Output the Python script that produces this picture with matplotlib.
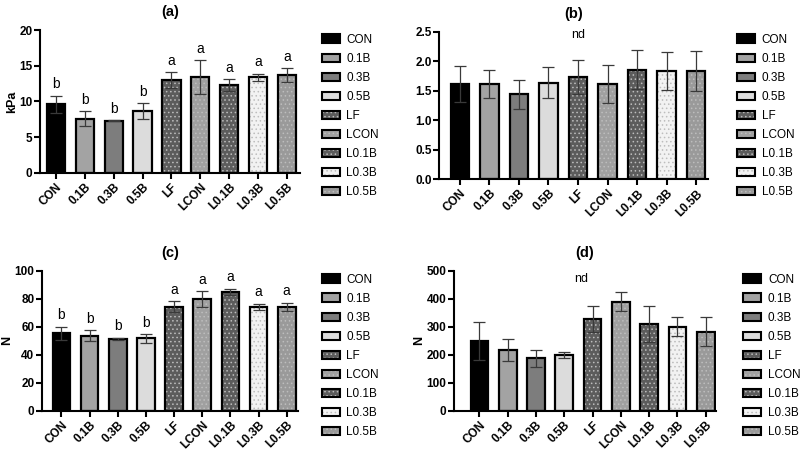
import numpy as np
import matplotlib
matplotlib.use("Agg")
import matplotlib.pyplot as plt
from matplotlib.patches import Patch

# ------------------------------------------------------------
# Data
# ------------------------------------------------------------

groups = ["CON", "0.1B", "0.3B", "0.5B", "LF", "LCON", "L0.1B", "L0.3B", "L0.5B"]

a_mean = [9.6, 7.6, 7.3, 8.7, 13.0, 13.4, 12.3, 13.4, 13.7]
a_err = [1.2, 1.0, 0.1, 1.1, 1.1, 2.4, 0.8, 0.5, 1.0]
a_letters = ["b", "b", "b", "b", "a", "a", "a", "a", "a"]

b_mean = [1.62, 1.61, 1.44, 1.64, 1.73, 1.62, 1.86, 1.84, 1.84]
b_err = [0.31, 0.24, 0.25, 0.27, 0.29, 0.32, 0.33, 0.32, 0.34]

c_mean = [55.5, 53.8, 51.4, 51.9, 74.5, 80.0, 85.0, 74.5, 74.5]
c_err = [4.7, 3.8, 1.0, 3.1, 4.1, 5.7, 2.4, 2.2, 2.9]
c_letters = ["b", "b", "b", "b", "a", "a", "a", "a", "a"]

d_mean = [250, 218, 188, 199, 327, 390, 310, 300, 283]
d_err = [67, 40, 31, 11, 46, 33, 65, 34, 51]

# ------------------------------------------------------------
# Style
# ------------------------------------------------------------

face_colors = ["#000000", "#a3a3a3", "#7d7d7d", "#dcdcdc", "#5c5c5c",
               "#a0a0a0", "#5c5c5c", "#f2f2f2", "#9a9a9a"]
hatches = [None, None, None, None, "....", "....", "....", "....", "...."]

plt.rcParams["hatch.color"] = "#bdbdbd"
plt.rcParams["hatch.linewidth"] = 0.6
plt.rcParams["font.family"] = ["Liberation Sans", "DejaVu Sans"]


def draw_panel(ax, mean, err, ylim, yticks, ylabel, title, xlim,
               letters=None, letter_off=0.0, nd_pos=None):
    x = np.arange(len(groups))
    for i in range(len(groups)):
        ax.bar(x[i], mean[i], width=0.63, color=face_colors[i],
               hatch=hatches[i], linewidth=0, zorder=2)
        ax.bar(x[i], mean[i], width=0.63, fill=False, edgecolor="black",
               linewidth=1.6, zorder=3)
    ax.errorbar(x, mean, yerr=err, fmt="none", ecolor="#3a3a3a",
                elinewidth=0.9, capsize=4.5, capthick=0.9, zorder=4)

    if letters is not None:
        for i, lt in enumerate(letters):
            ax.text(x[i], mean[i] + err[i] + letter_off, lt, ha="center",
                    va="bottom", fontsize=10)
    if nd_pos is not None:
        ax.text(nd_pos[0], nd_pos[1], "nd", ha="center", va="center",
                fontsize=9)

    ax.set_xlim(*xlim)
    ax.set_ylim(*ylim)
    ax.set_yticks(yticks)
    ax.set_xticks(x)
    ax.set_xticklabels(groups, rotation=45, ha="right",
                       rotation_mode="anchor", fontweight="bold", fontsize=8.5)
    for lab in ax.get_yticklabels():
        lab.set_fontweight("bold")
        lab.set_fontsize(8.5)
    ax.set_ylabel(ylabel, fontweight="bold", fontsize=9, labelpad=1)
    ax.set_title(title, fontweight="bold", fontsize=10.5, pad=10)

    ax.spines["top"].set_visible(False)
    ax.spines["right"].set_visible(False)
    ax.spines["left"].set_linewidth(1.5)
    ax.spines["bottom"].set_linewidth(1.5)
    ax.tick_params(axis="both", width=1.5, length=4)
    ax.tick_params(axis="x", pad=2)
    ax.tick_params(axis="y", pad=1.5)


def add_legend(fig, anchor):
    handles = []
    for i in range(len(groups)):
        h1 = Patch(facecolor=face_colors[i], hatch=hatches[i], linewidth=0)
        h2 = Patch(fill=False, edgecolor="black", linewidth=1.5)
        handles.append((h1, h2))
    fig.legend(handles, groups, loc="upper left", bbox_to_anchor=anchor,
               frameon=False, fontsize=8.5, handlelength=1.55,
               handleheight=0.7, handletextpad=0.55, labelspacing=0.6,
               borderaxespad=0, borderpad=0)


fig = plt.figure(figsize=(8, 4.5), dpi=100)

ax_a = fig.add_axes([0.050, 0.616, 0.325, 0.317])
ax_b = fig.add_axes([0.549, 0.602, 0.336, 0.327])
ax_c = fig.add_axes([0.0525, 0.087, 0.320, 0.311])
ax_d = fig.add_axes([0.5675, 0.087, 0.327, 0.311])

draw_panel(ax_a, a_mean, a_err, (0, 20), [0, 5, 10, 15, 20], "kPa", "(a)",
           (-0.55, 8.45), letters=a_letters, letter_off=0.6)
draw_panel(ax_b, b_mean, b_err, (0, 2.5), [0, 0.5, 1.0, 1.5, 2.0, 2.5], "",
           "(b)", (-0.7, 8.4), nd_pos=(4.0, 2.45))
draw_panel(ax_c, c_mean, c_err, (0, 100), [0, 20, 40, 60, 80, 100], "N",
           "(c)", (-0.69, 8.4), letters=c_letters, letter_off=3.0)
draw_panel(ax_d, d_mean, d_err, (0, 500), [0, 100, 200, 300, 400, 500], "N",
           "(d)", (-0.9, 8.35), nd_pos=(3.6, 470))

ax_b.set_yticklabels(["0.0", "0.5", "1.0", "1.5", "2.0", "2.5"],
                     fontweight="bold", fontsize=8.5)

add_legend(fig, (0.402, 0.925))
add_legend(fig, (0.921, 0.925))
add_legend(fig, (0.402, 0.392))
add_legend(fig, (0.929, 0.392))

fig.savefig("out.png", dpi=100)
